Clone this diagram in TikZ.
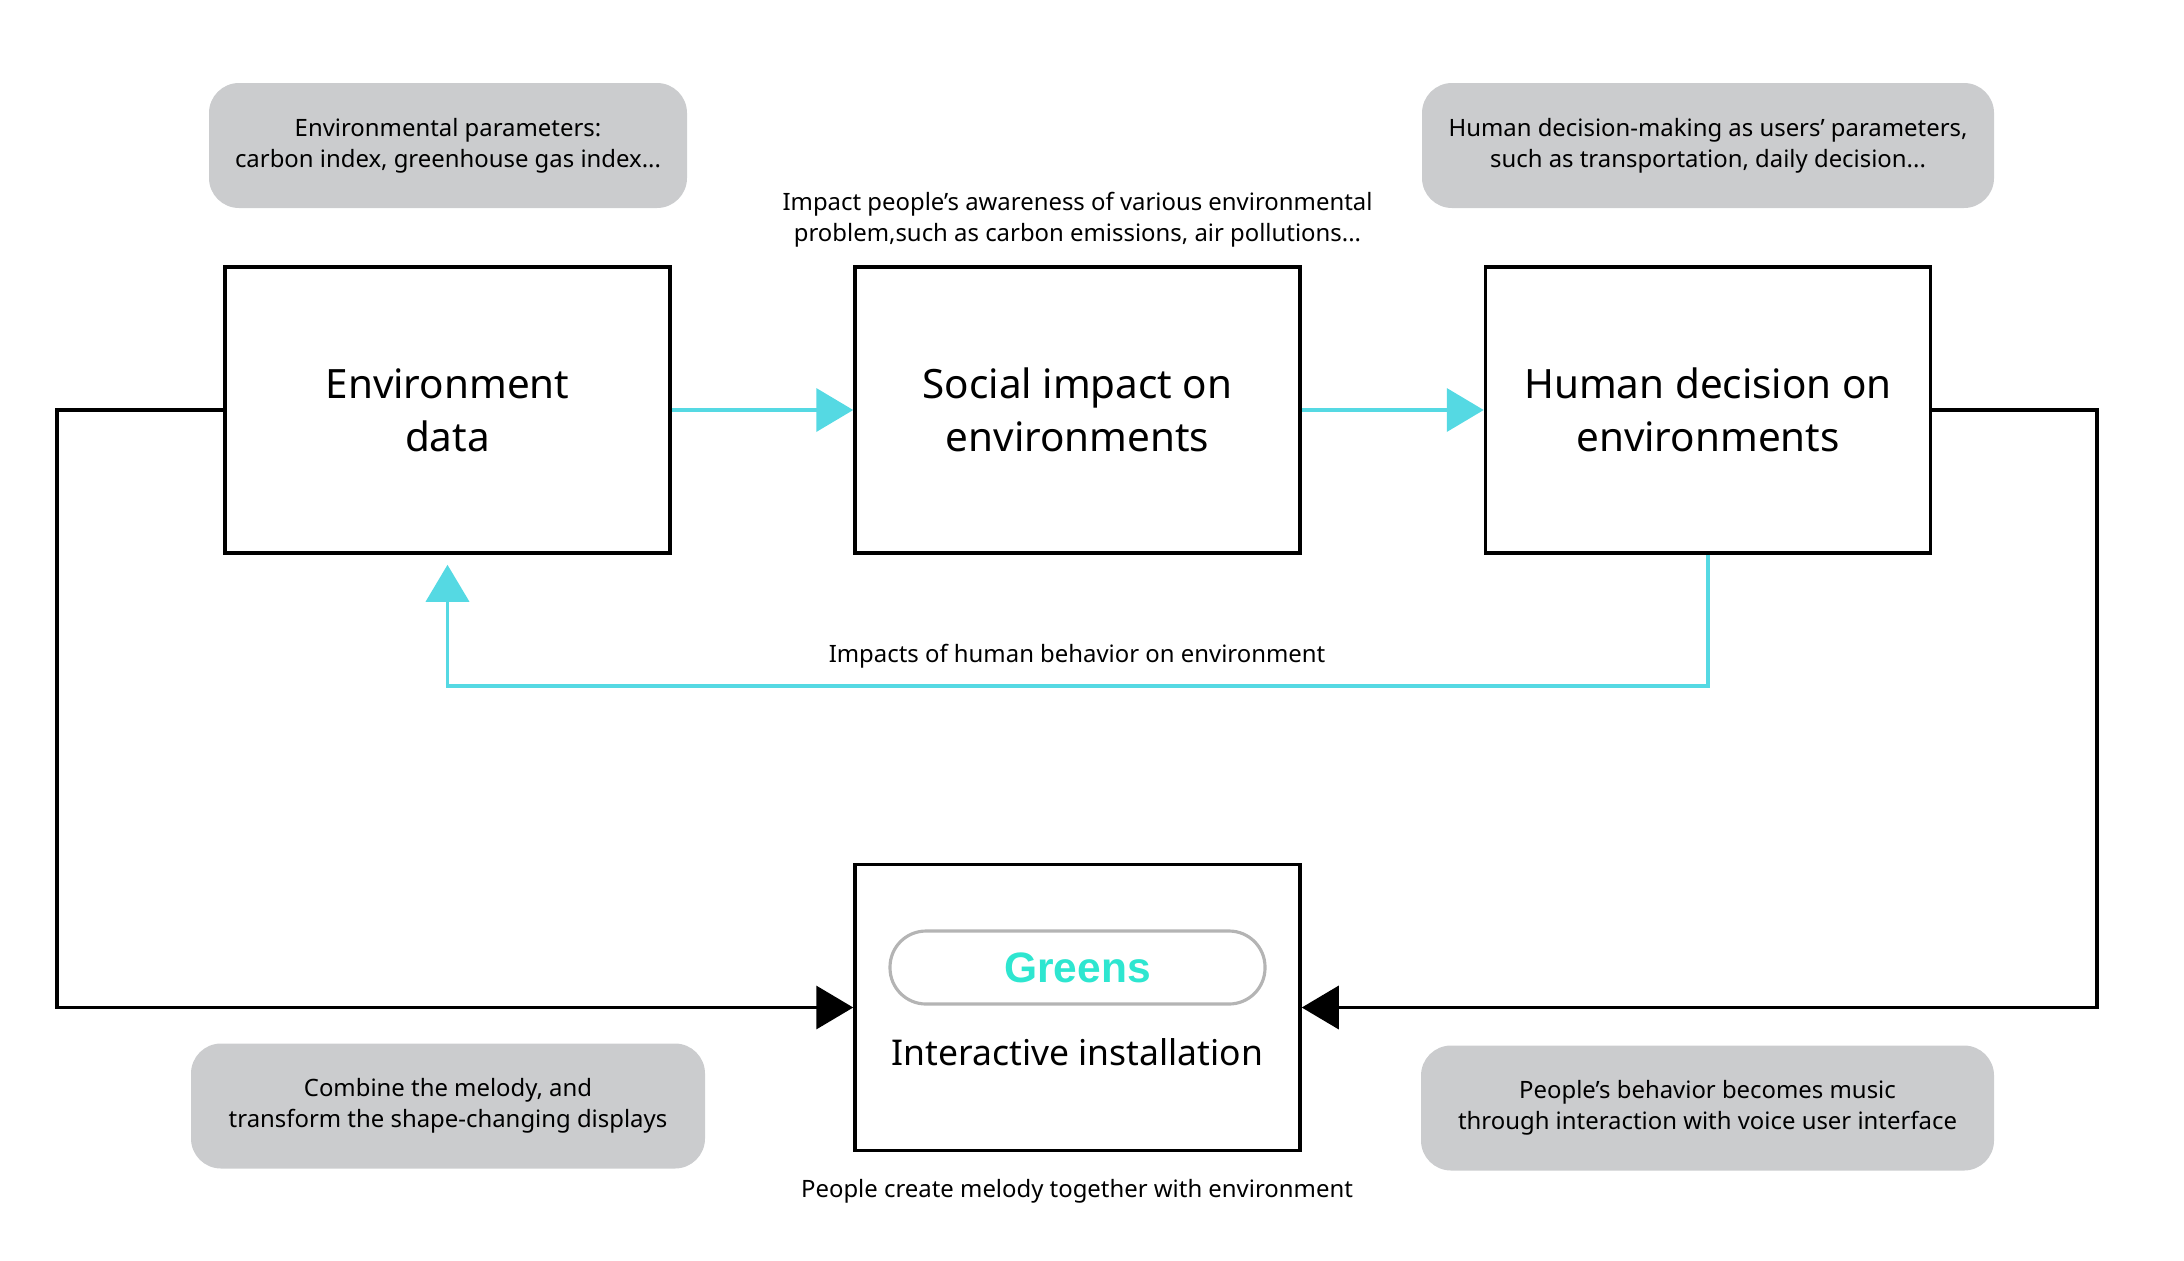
\documentclass[tikz,border=0pt]{standalone}
\usepackage{fontspec}
\setmainfont{Noto Sans}
\newfontfamily\greensfont{Liberation Sans}
\usetikzlibrary{arrows.meta}
\definecolor{flowcyan}{RGB}{85,217,227}
\definecolor{greenscyan}{RGB}{46,230,208}
\definecolor{notegray}{RGB}{203,204,206}
\definecolor{pillgray}{RGB}{180,180,180}
\newcommand{\smalltext}{\fontsize{6.8}{8.8}\selectfont}
\newcommand{\bigtext}{\fontsize{11.5}{15.1}\selectfont}

\begin{document}
\begin{tikzpicture}[x = 0.1mm, y = -0.1mm,
box/.style = {draw, line width = 1pt, minimum width = 44.5mm, minimum height = 28.6mm, align = center, font = \bigtext},
note/.style = {fill = notegray, rounded corners = 3mm, minimum height = 12.5mm, align = center, font = \smalltext},
remark/.style = {align = center, font = \smalltext},
cyanline/.style = {line width = 1.1pt, flowcyan, -{Triangle[length = 3.7mm, width = 4.3mm]}},
blackline/.style = {line width = 1pt, -{Triangle[length = 3.7mm, width = 4.3mm]}}]
\useasboundingbox (0,0) rectangle (2184,1260);

\node [box] (v1) at (447.5,410) {Environment\\data};
\node [box] (v2) at (1077.5,410) {Social impact on\\environments};
\node [box] (v3) at (1708,410) {Human decision on\\environments};
\node [box] (v4) at (1077.5,1007.5) {};

\node [draw = pillgray, line width = 0.9pt, rounded corners = 3.6mm, minimum width = 37.5mm, minimum height = 7.3mm, text = greenscyan, font = \greensfont\bfseries\fontsize{12.1}{14}\selectfont] (v5) at (1077.5,967.5) {Greens};
\node [font = \fontsize{10.1}{12}\selectfont] (v6) at (1077.5,1052) {Interactive installation};

\node [note, minimum width = 47.8mm] (v7) at (448,145.5) {Environmental parameters:\\carbon index, greenhouse gas index...};
\node [note, minimum width = 57.2mm] (v8) at (1708,145.5) {Human decision-making as users' parameters,\\such as transportation, daily decision...};
\node [note, minimum width = 51.4mm] (v9) at (448,1106) {Combine the melody, and\\transform the shape-changing displays};
\node [note, minimum width = 57.3mm] (v10) at (1707.5,1108) {People's behavior becomes music\\through interaction with voice user interface};

\node [remark] (v11) at (1077.5,220) {Impact people's awareness of various environmental\\problem,such as carbon emissions, air pollutions...};
\node [remark] (v12) at (1077,656) {Impacts of human behavior on environment};
\node [remark] (v13) at (1077,1191.5) {People create melody together with environment};

\coordinate (c1) at (57,410);
\coordinate (c2) at (2097,410);
\coordinate (c3) at (1077.5,686);

\draw [cyanline] (v1) -- (v2);
\draw [cyanline] (v2) -- (v3);
\draw [cyanline, shorten > = 1mm] (v3) |- (c3) -| (v1);

\draw [blackline] (v1) -- (c1) |- (v4);
\draw [blackline] (v3) -- (c2) |- (v4);
\end{tikzpicture}
\end{document}
